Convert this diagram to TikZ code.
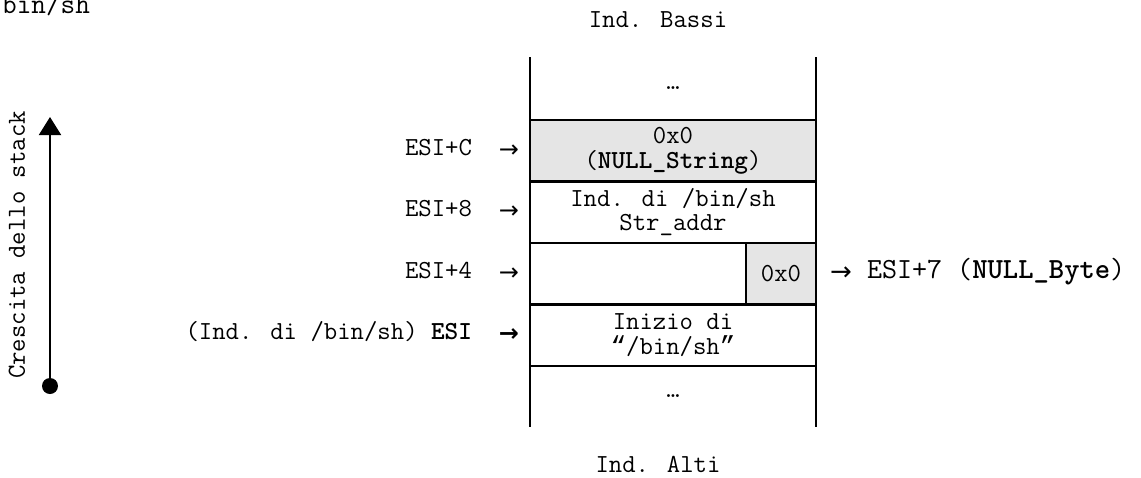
\documentclass[tikz,border=0pt]{standalone}
\usepackage{fontspec}
\newfontfamily\arrowfont{DejaVu Sans}
\newfontfamily\quotefont{Liberation Mono}
\usetikzlibrary{arrows.meta}
\newcommand\monotxt{\ttfamily\fontsize{13}{12.2}\selectfont}

\begin{document}
\begin{tikzpicture}[x=0.5pt, y=-0.5pt, node distance=0 cm, outer sep=0pt, line width=1.3pt]

\tikzstyle{cell}=[rectangle, minimum height=30.75pt, minimum width=143pt, anchor=north west, inner sep=0pt, align=center, font=\monotxt]
\tikzstyle{mem}=[cell, draw]
\tikzstyle{lbl}=[inner sep=0pt, font=\monotxt]
\tikzstyle{ptr}=[inner sep=0pt, font=\arrowfont\fontsize{12}{12}\selectfont]

\useasboundingbox (0,0) rectangle (1141,477);

% stack cells
\node[cell, minimum height=31.5pt] (dots1) at (530,57) {…};
\node[mem, fill=gray!20] (nullstr) at (530,120) {0x0\\(\textbf{NULL\_String})};
\node[mem] (straddr) at (530,181.5) {Ind. di /bin/sh\\Str\_addr};
\node[mem, minimum width=108pt] (word) at (530,243) {};
\node[mem, minimum width=35pt, fill=gray!20] (nullbyte) at (746,243) {0x0};
\node[mem] (binsh) at (530,304.5) {Inizio di\\{\quotefont“}/bin/sh{\quotefont”}};
\node[cell, minimum height=30.5pt] (dots2) at (530,366) {…};
\draw (dots1.north west) -- (dots1.south west); \draw (dots1.north east) -- (dots1.south east);
\draw (dots2.north west) -- (dots2.south west); \draw (dots2.north east) -- (dots2.south east);

\node[lbl, anchor=base] (low) at (658,27) {Ind. Bassi};
\node[lbl, anchor=base] (high) at (658,472) {Ind. Alti};
\node[lbl, anchor=base east, font=\ttfamily\fontsize{14.2}{14}\selectfont] (cut) at (90,13) {/bin/sh};

% pointers
\node[lbl, anchor=mid east] (esic) at (472,151) {ESI+C}; \node[ptr] (pc) at (509,151) {→};
\node[lbl, anchor=mid east] (esi8) at (472,212) {ESI+8}; \node[ptr] (p8) at (509,212) {→};
\node[lbl, anchor=mid east] (esi4) at (472,274) {ESI+4}; \node[ptr] (p4) at (509,274) {→};
\node[lbl, anchor=mid east] (esi) at (472,335) {(Ind. di /bin/sh) \textbf{ESI}}; \node[ptr, font=\arrowfont\bfseries\fontsize{12}{12}\selectfont] (p0) at (509,335) {→};
\node[ptr, font=\arrowfont\fontsize{13}{13}\selectfont] (p7) at (841,274) {→};
\node[lbl, anchor=mid west, font=\ttfamily\fontsize{14.6}{14}\selectfont] (esi7) at (867,274) {ESI+7 (\textbf{NULL\_Byte})};

% growth
\node[circle, fill, inner sep=0pt, minimum size=8pt] (base) at (50,386) {};
\coordinate (tip) at (50,117);
\draw[line width=1pt, -{Triangle[width=11pt,length=9pt]}] (base) -- (tip);
\node[lbl, rotate=90, anchor=base] (growth) at (25,245) {Crescita dello stack};

\end{tikzpicture}
\end{document}
